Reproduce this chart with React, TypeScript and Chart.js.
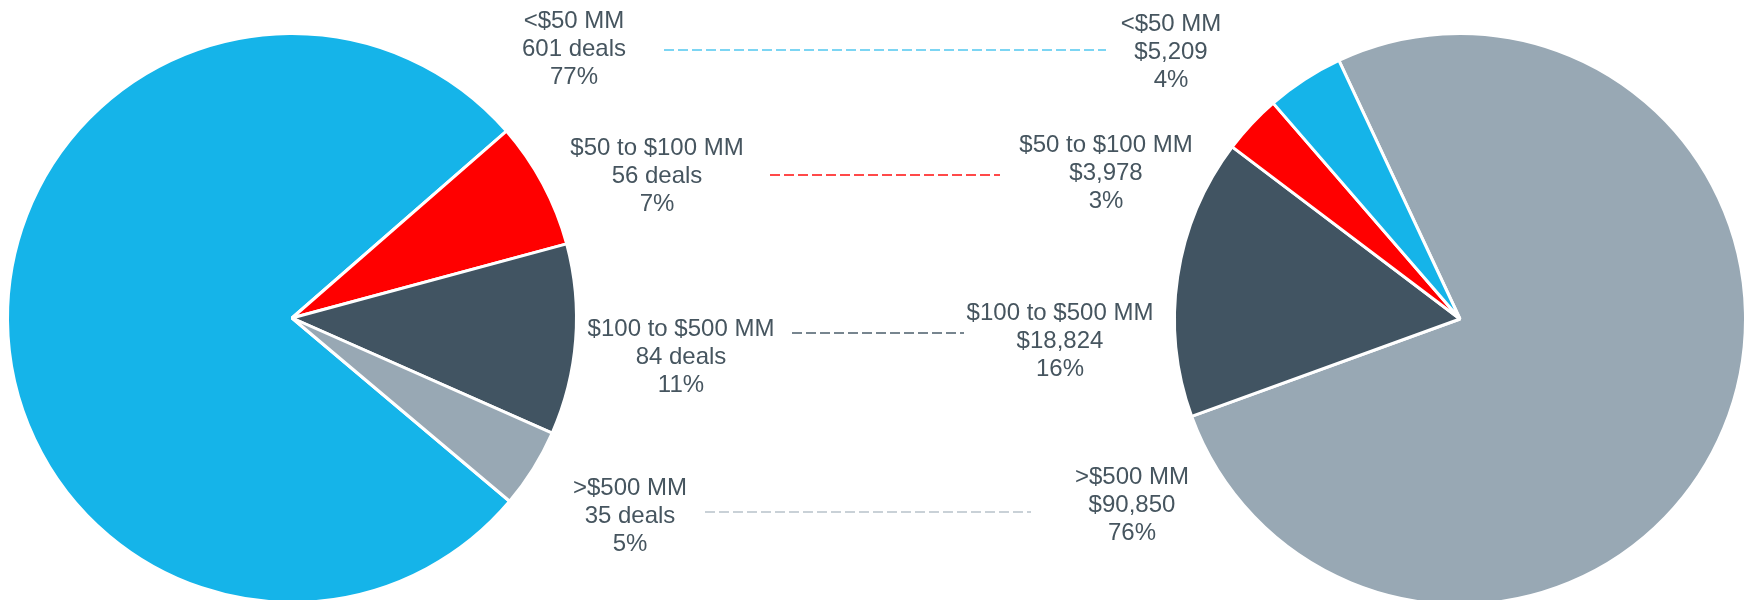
import React, { useEffect, useRef } from "react";
import { Chart, registerables } from "chart.js";

Chart.register(...registerables);

// ---- data ----
const categories = ["<$50 MM", "$50 to $100 MM", "$100 to $500 MM", ">$500 MM"];
const dealCounts = [601, 56, 84, 35];
const dealValues = [5209, 3978, 18824, 90850];
const sliceColors = ["#15B4E9", "#FF0000", "#415462", "#98A8B4"];

// ---- layout (page px) ----
const W = 1748;
const H = 640;
const leftLabelPos = [
  { x: 574, y: 21 },
  { x: 657, y: 148 },
  { x: 681, y: 329 },
  { x: 630, y: 488 },
];
const rightLabelPos = [
  { x: 1171, y: 24 },
  { x: 1106, y: 145 },
  { x: 1060, y: 313 },
  { x: 1132, y: 477 },
];
const connectorPos = [
  { x1: 664, x2: 1106, y: 50 },
  { x1: 770, x2: 1000, y: 175 },
  { x1: 792, x2: 964, y: 333 },
  { x1: 705, x2: 1031, y: 512 },
];
const connectorAlpha = [0.75, 0.95, 0.95, 0.7];
const TEXT_COLOR = "#46555F";
const FONT = '24px "Liberation Sans", Arial, sans-serif';
const LINE_H = 28;

const pct = (arr: number[], i: number) => {
  const t = arr.reduce((a, b) => a + b, 0);
  return Math.round((arr[i] / t) * 100) + "%";
};

const labelPlugin = {
  id: "sideLabels",
  afterDraw(chart: any) {
    const ctx = chart.ctx as CanvasRenderingContext2D;
    ctx.save();
    ctx.font = FONT;
    ctx.fillStyle = TEXT_COLOR;
    ctx.textAlign = "center";
    ctx.textBaseline = "middle";
    categories.forEach((c, i) => {
      const l = [c, `${dealCounts[i]} deals`, pct(dealCounts, i)];
      l.forEach((t, k) => ctx.fillText(t, leftLabelPos[i].x, leftLabelPos[i].y + k * LINE_H));
      const r = [c, "$" + dealValues[i].toLocaleString("en-US"), pct(dealValues, i)];
      r.forEach((t, k) => ctx.fillText(t, rightLabelPos[i].x, rightLabelPos[i].y + k * LINE_H));
    });
    ctx.lineWidth = 1.4;
    ctx.setLineDash([10, 4]);
    connectorPos.forEach((p, i) => {
      ctx.strokeStyle = sliceColors[i];
      ctx.globalAlpha = connectorAlpha[i];
      ctx.beginPath();
      ctx.moveTo(p.x1, p.y);
      ctx.lineTo(p.x2, p.y);
      ctx.stroke();
    });
    ctx.restore();
  },
};

function makePie(
  canvas: HTMLCanvasElement,
  values: number[],
  colors: string[],
  labels: string[],
  rotation: number,
  padding: { left: number; top: number; right: number; bottom: number },
  plugins: any[]
) {
  return new Chart(canvas, {
    type: "pie",
    data: {
      labels,
      datasets: [
        {
          data: values,
          backgroundColor: colors,
          borderColor: "#FFFFFF",
          borderWidth: 3,
        },
      ],
    },
    options: {
      responsive: false,
      animation: false,
      devicePixelRatio: 1,
      rotation,
      layout: { padding },
      plugins: {
        legend: { display: false },
        tooltip: { enabled: false },
        title: { display: false },
      },
    },
    plugins,
  });
}

export default function App() {
  const leftRef = useRef<HTMLCanvasElement>(null);
  const rightRef = useRef<HTMLCanvasElement>(null);

  useEffect(() => {
    const left = makePie(
      leftRef.current!,
      dealCounts,
      sliceColors,
      categories,
      130.1,
      { left: 6, top: 32, right: W - 578, bottom: H - 604 },
      []
    );
    const rev = (a: any[]) => [...a].reverse();
    const right = makePie(
      rightRef.current!,
      rev(dealValues),
      rev(sliceColors),
      rev(categories),
      -25.1,
      { left: 1173, top: 32, right: W - 1747, bottom: H - 606 },
      [labelPlugin]
    );
    return () => {
      left.destroy();
      right.destroy();
    };
  }, []);

  const cs: React.CSSProperties = { position: "absolute", left: 0, top: 0, width: W, height: H };
  return (
    <div
      style={{
        position: "fixed",
        left: 0,
        top: 0,
        width: W,
        height: 600,
        overflow: "hidden",
        background: "#FFFFFF",
      }}
    >
      <canvas ref={leftRef} width={W} height={H} style={cs} />
      <canvas ref={rightRef} width={W} height={H} style={cs} />
    </div>
  );
}
